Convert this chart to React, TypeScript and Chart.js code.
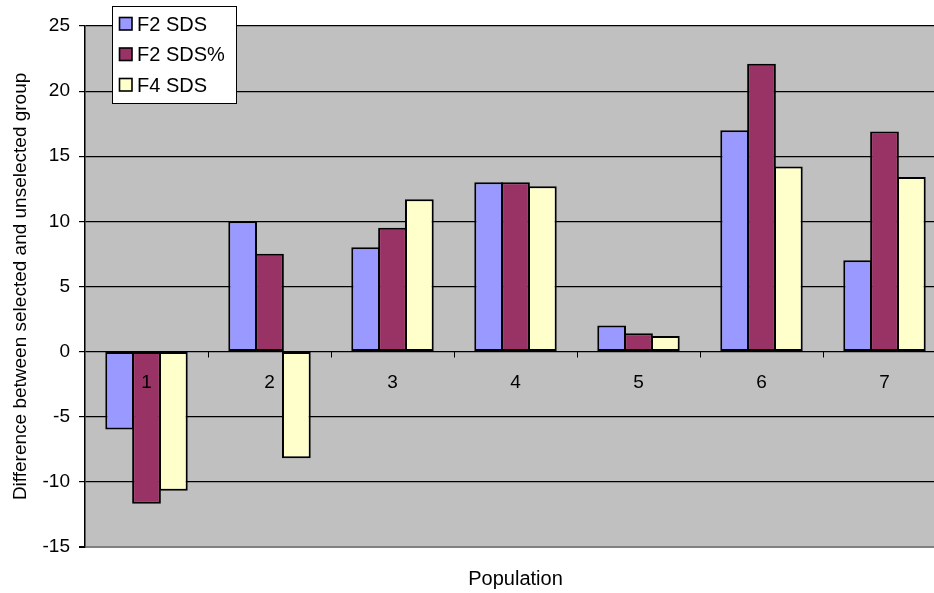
import React, { useEffect, useRef } from "react";
import { Chart, registerables } from "chart.js";

Chart.register(...registerables);

// Populations on the category axis
const populations = ["1", "2", "3", "4", "5", "6", "7"];

// Difference between selected and unselected group, per series
const f2Sds = [-6, 10, 8, 13, 2, 17, 7];
const f2SdsPct = [-11.7, 7.5, 9.5, 13, 1.4, 22.1, 16.9];
const f4Sds = [-10.7, -8.2, 11.7, 12.7, 1.2, 14.2, 13.4];

const seriesNames = ["F2 SDS", "F2 SDS%", "F4 SDS"];
const seriesColors = ["#9999FF", "#993366", "#FFFFCC"];

const yMin = -15;
const yMax = 25;
const yStep = 5;

const FONT = '"Liberation Sans", Arial, Helvetica, sans-serif';

const excelPlotPlugin = {
  id: "excelPlot",
  beforeDraw(chart: any) {
    const { ctx, chartArea } = chart;
    ctx.save();
    ctx.fillStyle = "#C0C0C0";
    ctx.fillRect(
      chartArea.left,
      chartArea.top,
      chartArea.right - chartArea.left,
      chartArea.bottom - chartArea.top
    );
    ctx.restore();
  },
  afterDatasetsDraw(chart: any) {
    const { ctx, chartArea } = chart;
    const xs = chart.scales.x;
    const ys = chart.scales.y;
    const zeroY = ys.getPixelForValue(0);
    const catW = (chartArea.right - chartArea.left) / populations.length;

    ctx.save();
    // tick marks between categories, hanging from the zero line
    ctx.strokeStyle = "#000";
    ctx.lineWidth = 1;
    for (let i = 0; i < populations.length; i++) {
      const bx = Math.round(xs.getPixelForValue(i) + catW / 2) + 0.5;
      ctx.beginPath();
      ctx.moveTo(bx, zeroY);
      ctx.lineTo(bx, zeroY + 6);
      ctx.stroke();
    }
    // category labels just below the zero line
    ctx.fillStyle = "#000";
    ctx.font = `19px ${FONT}`;
    ctx.textAlign = "center";
    ctx.textBaseline = "alphabetic";
    populations.forEach((p, i) => {
      ctx.fillText(p, xs.getPixelForValue(i), zeroY + 36.5);
    });
    ctx.restore();
  },
  afterDraw(chart: any) {
    const { ctx } = chart;
    ctx.save();
    // legend box
    const bx = 112.5;
    const by = 6.5;
    const bw = 124;
    const bh = 97;
    ctx.fillStyle = "#FFFFFF";
    ctx.fillRect(bx, by, bw, bh);
    ctx.strokeStyle = "#000";
    ctx.lineWidth = 1;
    ctx.strokeRect(bx, by, bw, bh);

    ctx.font = `20px ${FONT}`;
    ctx.textAlign = "left";
    ctx.textBaseline = "middle";
    seriesNames.forEach((name, i) => {
      const cy = 24 + i * 30.5;
      ctx.fillStyle = seriesColors[i];
      ctx.fillRect(119.5, cy - 6.5, 12.5, 12.5);
      ctx.lineWidth = 1.6;
      ctx.strokeStyle = "#000";
      ctx.strokeRect(119.5, cy - 6.5, 12.5, 12.5);
      ctx.fillStyle = "#000";
      ctx.fillText(name, 137, cy + 1);
    });
    ctx.restore();
  },
};

export default function App() {
  const canvasRef = useRef<HTMLCanvasElement | null>(null);

  useEffect(() => {
    const canvas = canvasRef.current;
    if (!canvas) return;
    const seriesValues = [f2Sds, f2SdsPct, f4Sds];
    const chart = new Chart(canvas, {
      type: "bar",
      data: {
        labels: populations,
        datasets: seriesNames.map((name, i) => ({
          label: name,
          data: seriesValues[i],
          backgroundColor: seriesColors[i],
          borderColor: "#000000",
          borderWidth: 2,
          borderSkipped: false,
          // bars slightly wider than their slot so neighbours share one outline
          categoryPercentage: 0.655,
          barPercentage: 1.07,
        })),
      },
      options: {
        responsive: false,
        animation: false,
        devicePixelRatio: 1,
        layout: { padding: { top: 26, right: 4, bottom: 0, left: 0 } },
        plugins: {
          legend: { display: false },
          tooltip: { enabled: false },
        },
        scales: {
          x: {
            grid: { display: false, drawTicks: false },
            border: { display: false },
            ticks: { display: false },
            title: {
              display: true,
              text: "Population",
              color: "#000",
              font: { family: FONT, size: 20 },
              padding: { top: 20.6, bottom: 1.6 },
            },
          },
          y: {
            min: yMin,
            max: yMax,
            afterFit: (scale: any) => {
              scale.width = 85;
            },
            ticks: {
              stepSize: yStep,
              color: "#000",
              padding: 9,
              font: { family: FONT, size: 19 },
            },
            grid: {
              color: (c: any) => (c.tick && c.tick.value === yMin ? "#808080" : "#000000"),
              lineWidth: (c: any) => (c.tick && c.tick.value === yMin ? 2 : 1.2),
              tickColor: "#000000",
              tickLength: 6,
            },
            border: { display: true, color: "#000000", width: 1.5 },
            title: {
              display: true,
              text: "Difference between selected and unselected group",
              color: "#000",
              font: { family: FONT, size: 19 },
              padding: { top: 9.6, bottom: 0 },
            },
          },
        },
      },
      plugins: [excelPlotPlugin],
    });
    return () => chart.destroy();
  }, []);

  return (
    <div
      style={{
        position: "fixed",
        left: 0,
        top: 0,
        width: 934,
        height: 593,
        overflow: "hidden",
        background: "#FFFFFF",
      }}
    >
      <canvas ref={canvasRef} width={950} height={593} style={{ display: "block" }} />
    </div>
  );
}
